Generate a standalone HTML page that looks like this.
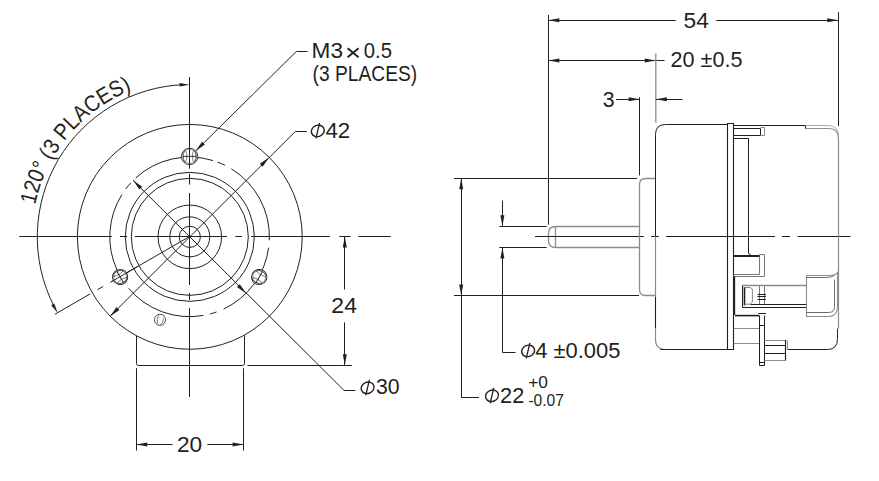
<!DOCTYPE html>
<html><head><meta charset="utf-8"><style>
html,body{margin:0;padding:0;background:#fff;}
svg{display:block;}
text{font-family:"Liberation Sans",sans-serif;fill:#231f20;}
</style></head><body>
<svg width="879" height="481" viewBox="0 0 879 481">
<rect width="879" height="481" fill="#fff"/>
<line x1="19.2" y1="236.5" x2="111.8" y2="236.5" stroke="#231f20" stroke-width="1.0"/>
<line x1="120" y1="236.5" x2="127.1" y2="236.5" stroke="#231f20" stroke-width="1.0"/>
<line x1="134.9" y1="236.5" x2="227" y2="236.5" stroke="#231f20" stroke-width="1.0"/>
<line x1="235.4" y1="236.5" x2="241.9" y2="236.5" stroke="#231f20" stroke-width="1.0"/>
<line x1="251.2" y1="236.5" x2="329.8" y2="236.5" stroke="#231f20" stroke-width="1.0"/>
<line x1="339.3" y1="236.5" x2="350.5" y2="236.5" stroke="#231f20" stroke-width="1.0"/>
<line x1="358.4" y1="236.5" x2="390.7" y2="236.5" stroke="#231f20" stroke-width="1.0"/>
<line x1="189.5" y1="77.1" x2="189.5" y2="168.5" stroke="#231f20" stroke-width="1.0"/>
<line x1="189.5" y1="173.5" x2="189.5" y2="184.6" stroke="#231f20" stroke-width="1.0"/>
<line x1="189.5" y1="193" x2="189.5" y2="284.9" stroke="#231f20" stroke-width="1.0"/>
<line x1="189.5" y1="293" x2="189.5" y2="299.9" stroke="#231f20" stroke-width="1.0"/>
<line x1="189.5" y1="307.9" x2="189.5" y2="397" stroke="#231f20" stroke-width="1.0"/>
<circle cx="189.8" cy="236.85" r="10.6" stroke="#231f20" stroke-width="1.0" fill="none"/>
<circle cx="189.8" cy="236.85" r="20" stroke="#231f20" stroke-width="1.0" fill="none"/>
<circle cx="189.8" cy="236.85" r="31.8" stroke="#231f20" stroke-width="1.0" fill="none"/>
<circle cx="189.8" cy="236.85" r="58.5" stroke="#231f20" stroke-width="1.0" fill="none"/>
<circle cx="189.8" cy="236.85" r="64.5" stroke="#231f20" stroke-width="1.0" fill="none"/>
<circle cx="189.8" cy="236.85" r="112.4" stroke="#231f20" stroke-width="1.0" fill="none"/>
<path d="M268.66 247.68A79.8 79.8 0 0 1 223.58 309.06" stroke="#231f20" stroke-width="1.0" fill="none" />
<path d="M216.5 311.98A79.8 79.8 0 0 1 210.12 313.97" stroke="#231f20" stroke-width="1.0" fill="none" />
<path d="M203.46 315.44A79.8 79.8 0 0 1 128.65 288.36" stroke="#231f20" stroke-width="1.0" fill="none" />
<path d="M117.04 270.07A79.8 79.8 0 0 1 121.93 194.56" stroke="#231f20" stroke-width="1.0" fill="none" />
<path d="M125.79 188.94A79.8 79.8 0 0 1 130.86 182.84" stroke="#231f20" stroke-width="1.0" fill="none" />
<path d="M135.89 177.83A79.8 79.8 0 0 1 213.06 160.58" stroke="#231f20" stroke-width="1.0" fill="none" />
<path d="M217.55 162.1A79.8 79.8 0 0 1 224.96 165.31" stroke="#231f20" stroke-width="1.0" fill="none" />
<path d="M231.3 168.81A79.8 79.8 0 0 1 269.33 240.19" stroke="#231f20" stroke-width="1.0" fill="none" />
<path d="M53.9 305.99A152.3 152.3 0 0 1 184.28 84.64" stroke="#231f20" stroke-width="1.0" fill="none" />
<polygon points="189.6,84.75 179.6,86.55 179.6,82.95" fill="#231f20"/>
<polygon points="57.7,313 51.15,305.24 54.26,303.44" fill="#231f20"/>
<line x1="189.6" y1="236.5" x2="110.62" y2="282.1" stroke="#231f20" stroke-width="1.0"/>
<line x1="103.08" y1="286.45" x2="97.54" y2="289.65" stroke="#231f20" stroke-width="1.0"/>
<line x1="90.09" y1="293.95" x2="54.93" y2="314.25" stroke="#231f20" stroke-width="1.0"/>
<line x1="133.03" y1="180.28" x2="343.9" y2="390.3" stroke="#231f20" stroke-width="1.0"/>
<polygon points="133.03,180.28 142.22,186.65 139.4,189.47" fill="#231f20"/>
<polygon points="246.17,293.42 236.98,287.05 239.8,284.23" fill="#231f20"/>
<line x1="343.9" y1="390.5" x2="355.4" y2="390.5" stroke="#231f20" stroke-width="1.0"/>
<line x1="110.19" y1="316.26" x2="295.2" y2="131.6" stroke="#231f20" stroke-width="1.0"/>
<polygon points="269.01,157.44 262.64,166.63 259.82,163.81" fill="#231f20"/>
<polygon points="110.19,316.26 116.56,307.07 119.38,309.89" fill="#231f20"/>
<line x1="295.2" y1="131.5" x2="306.8" y2="131.5" stroke="#231f20" stroke-width="1.0"/>
<line x1="195.69" y1="150.91" x2="296.6" y2="51.2" stroke="#231f20" stroke-width="1.0"/>
<polygon points="195.69,150.91 202.06,141.72 204.89,144.55" fill="#231f20"/>
<line x1="296.6" y1="51.5" x2="307.5" y2="51.5" stroke="#231f20" stroke-width="1.0"/>
<path d="M136.5 335.5V363.5Q136.5 365.5 138.5 365.5H242.5Q244.5 365.5 244.5 363.5V335.5" stroke="#231f20" stroke-width="1.0" fill="none" />
<g transform="translate(189.6 156.4) rotate(0)"><circle r="8.2" fill="#fff" stroke="#231f20" stroke-width="0.9"/><circle r="7.1" fill="none" stroke="#555" stroke-width="0.6"/><ellipse cx="-4.5" cy="0" rx="1.7" ry="5.6" fill="none" stroke="#3a3a3a" stroke-width="0.65"/><ellipse cx="4.5" cy="0" rx="1.7" ry="5.6" fill="none" stroke="#3a3a3a" stroke-width="0.65"/><line x1="-6.5" y1="0" x2="6.5" y2="0" stroke="#231f20" stroke-width="0.9"/></g>
<g transform="translate(259.23 277.05) rotate(120)"><circle r="7.6" fill="#fff" stroke="#231f20" stroke-width="0.9"/><circle r="6.5" fill="none" stroke="#555" stroke-width="0.6"/><ellipse cx="-4.5" cy="0" rx="1.7" ry="5.6" fill="none" stroke="#3a3a3a" stroke-width="0.65"/><ellipse cx="4.5" cy="0" rx="1.7" ry="5.6" fill="none" stroke="#3a3a3a" stroke-width="0.65"/><line x1="-6.5" y1="0" x2="6.5" y2="0" stroke="#231f20" stroke-width="0.9"/></g>
<g transform="translate(120.14 276.95) rotate(240)"><circle r="7.6" fill="#fff" stroke="#231f20" stroke-width="0.9"/><circle r="6.5" fill="none" stroke="#555" stroke-width="0.6"/><ellipse cx="-4.5" cy="0" rx="1.7" ry="5.6" fill="none" stroke="#3a3a3a" stroke-width="0.65"/><ellipse cx="4.5" cy="0" rx="1.7" ry="5.6" fill="none" stroke="#3a3a3a" stroke-width="0.65"/><line x1="-6.5" y1="0" x2="6.5" y2="0" stroke="#231f20" stroke-width="0.9"/></g>
<line x1="189.5" y1="146" x2="189.5" y2="168.5" stroke="#231f20" stroke-width="1.0"/>
<line x1="137.64" y1="266.5" x2="110.62" y2="282.1" stroke="#231f20" stroke-width="1.0"/>
<ellipse cx="160" cy="319.8" rx="5.5" ry="5.6" fill="#fff" stroke="#231f20" stroke-width="0.8"/>
<path d="M158.5 315.5Q156.5 319.5 157.5 323.5" stroke="#231f20" stroke-width="0.6" fill="none" />
<path d="M163.5 318.5Q163.5 322.5 160.5 324.5" stroke="#231f20" stroke-width="0.6" fill="none" />
<line x1="136.5" y1="368.2" x2="136.5" y2="450.6" stroke="#231f20" stroke-width="1.0"/>
<line x1="243.5" y1="368.2" x2="243.5" y2="450.6" stroke="#231f20" stroke-width="1.0"/>
<line x1="136.2" y1="444.5" x2="172.6" y2="444.5" stroke="#231f20" stroke-width="1.0"/>
<line x1="207.3" y1="444.5" x2="243.6" y2="444.5" stroke="#231f20" stroke-width="1.0"/>
<polygon points="136.2,444.4 147.2,442.4 147.2,446.4" fill="#231f20"/>
<polygon points="243.6,444.4 232.6,446.4 232.6,442.4" fill="#231f20"/>
<line x1="247.5" y1="365.5" x2="352" y2="365.5" stroke="#231f20" stroke-width="1.0"/>
<line x1="344.5" y1="236.5" x2="344.5" y2="289.5" stroke="#231f20" stroke-width="1.0"/>
<line x1="344.5" y1="322.4" x2="344.5" y2="365.2" stroke="#231f20" stroke-width="1.0"/>
<polygon points="344.8,236.5 346.8,247.5 342.8,247.5" fill="#231f20"/>
<polygon points="344.8,365.2 342.8,354.2 346.8,354.2" fill="#231f20"/>
<text transform="translate(176.97 452.38) scale(1.0436 1)" font-size="21.7">20</text>
<text transform="translate(331.35 312.9) scale(1.0604 1)" font-size="21.7">24</text>
<text transform="translate(311.59 57.58) scale(1.0424 1)" font-size="21.7">M3</text>
<text transform="translate(363.79 57.58) scale(0.9357 1)" font-size="21.7">0.5</text>
<line x1="347.6" y1="48.2" x2="358.6" y2="57.2" stroke="#231f20" stroke-width="1.9"/>
<line x1="358.6" y1="48.2" x2="347.6" y2="57.2" stroke="#231f20" stroke-width="1.9"/>
<text transform="translate(312.55 80.74) scale(0.8861 1)" font-size="21.7">(3 PLACES)</text>
<ellipse cx="0" cy="0" rx="6.6" ry="5.6" transform="translate(317.8 130.9) rotate(-22)" fill="none" stroke="#231f20" stroke-width="1.4"/>
<line x1="315.95" y1="138.4" x2="319.6" y2="122.9" stroke="#231f20" stroke-width="1.3"/>
<text transform="translate(325.45 137.8) scale(1.0280 1)" font-size="21.7">42</text>
<ellipse cx="0" cy="0" rx="6.6" ry="5.6" transform="translate(367.6 387.8) rotate(-22)" fill="none" stroke="#231f20" stroke-width="1.4"/>
<line x1="365.75" y1="395.3" x2="369.4" y2="379.8" stroke="#231f20" stroke-width="1.3"/>
<text transform="translate(375.95 394.48) scale(0.9798 1)" font-size="21.7">30</text>
<path id="arcp" d="M33.84 212.18A157.7 157.7 0 0 1 167.65 80.68" fill="none" stroke="none"/>
<text font-size="22.6"><textPath href="#arcp" startOffset="7.5" textLength="156" lengthAdjust="spacingAndGlyphs">120&#176; (3 PLACES)</textPath></text>
<line x1="548.5" y1="15" x2="548.5" y2="224.6" stroke="#231f20" stroke-width="1.0"/>
<line x1="838.5" y1="12.2" x2="838.5" y2="126.1" stroke="#231f20" stroke-width="1.0"/>
<line x1="548.3" y1="20.5" x2="675.8" y2="20.5" stroke="#231f20" stroke-width="1.0"/>
<line x1="716.3" y1="20.5" x2="838.3" y2="20.5" stroke="#231f20" stroke-width="1.0"/>
<polygon points="548.3,20.2 559.3,18.2 559.3,22.2" fill="#231f20"/>
<polygon points="838.3,20.2 827.3,22.2 827.3,18.2" fill="#231f20"/>
<text transform="translate(683.59 27.78) scale(1.0457 1)" font-size="21.7">54</text>
<line x1="548.3" y1="60.5" x2="664.6" y2="60.5" stroke="#231f20" stroke-width="1.0"/>
<polygon points="548.3,60.6 559.3,58.6 559.3,62.6" fill="#231f20"/>
<polygon points="655.8,60.6 644.8,62.6 644.8,58.6" fill="#231f20"/>
<line x1="655.8" y1="53.6" x2="655.8" y2="122.5" stroke="#9a9a9a" stroke-width="1.5"/>
<text transform="translate(670.62 67.28) scale(0.9942 1)" font-size="21.7">20 &#177;0.5</text>
<line x1="639.5" y1="97.2" x2="639.5" y2="175.4" stroke="#231f20" stroke-width="1.0"/>
<line x1="616" y1="99.5" x2="639.6" y2="99.5" stroke="#231f20" stroke-width="1.0"/>
<polygon points="639.6,99.2 628.6,101.2 628.6,97.2" fill="#231f20"/>
<line x1="655.8" y1="99.5" x2="682.6" y2="99.5" stroke="#231f20" stroke-width="1.0"/>
<polygon points="655.8,99.2 666.8,97.2 666.8,101.2" fill="#231f20"/>
<text transform="translate(602.65 106.98) scale(0.9805 1)" font-size="21.7">3</text>
<line x1="454" y1="178.5" x2="637" y2="178.5" stroke="#231f20" stroke-width="1.0"/>
<line x1="454" y1="295.5" x2="639" y2="295.5" stroke="#231f20" stroke-width="1.0"/>
<line x1="461.5" y1="178.2" x2="461.5" y2="397.3" stroke="#231f20" stroke-width="1.0"/>
<line x1="461.2" y1="397.5" x2="479" y2="397.5" stroke="#231f20" stroke-width="1.0"/>
<polygon points="461.2,178.2 463.2,189.2 459.2,189.2" fill="#231f20"/>
<polygon points="461.2,295.5 459.2,284.5 463.2,284.5" fill="#231f20"/>
<ellipse cx="0" cy="0" rx="6.6" ry="5.6" transform="translate(492 395.8) rotate(-22)" fill="none" stroke="#231f20" stroke-width="1.4"/>
<line x1="490.15" y1="403.3" x2="493.8" y2="387.8" stroke="#231f20" stroke-width="1.3"/>
<text transform="translate(500.12 402.7) scale(0.9992 1)" font-size="21.7">22</text>
<text transform="translate(528.13 388.34) scale(1.0700 1)" font-size="16.2">+0</text>
<text transform="translate(528.38 405.64) scale(0.9640 1)" font-size="16.2">-0.07</text>
<line x1="499.3" y1="226.5" x2="546.6" y2="226.5" stroke="#231f20" stroke-width="1.0"/>
<line x1="499.3" y1="247.5" x2="546.6" y2="247.5" stroke="#231f20" stroke-width="1.0"/>
<line x1="502.5" y1="200.6" x2="502.5" y2="226.2" stroke="#231f20" stroke-width="1.0"/>
<polygon points="502.4,226.2 500.4,215.2 504.4,215.2" fill="#231f20"/>
<line x1="502.5" y1="247.4" x2="502.5" y2="352.3" stroke="#231f20" stroke-width="1.0"/>
<line x1="502.4" y1="352.5" x2="515.5" y2="352.5" stroke="#231f20" stroke-width="1.0"/>
<polygon points="502.4,247.4 504.4,258.4 500.4,258.4" fill="#231f20"/>
<ellipse cx="0" cy="0" rx="6.6" ry="5.6" transform="translate(528.1 350.9) rotate(-22)" fill="none" stroke="#231f20" stroke-width="1.4"/>
<line x1="526.25" y1="358.4" x2="529.9" y2="342.9" stroke="#231f20" stroke-width="1.3"/>
<text transform="translate(535.16 357.58) scale(1.0121 1)" font-size="21.7">4 &#177;0.005</text>
<path d="M639.5 226.5H555.5Q548.5 226.5 548.5 233.5V240.5Q548.5 247.5 555.5 247.5H639.5" stroke="#8c8c8c" stroke-width="1.3" fill="none" />
<line x1="555.5" y1="226.2" x2="555.5" y2="247.4" stroke="#8c8c8c" stroke-width="1.3"/>
<line x1="535" y1="236.5" x2="643.7" y2="236.5" stroke="#231f20" stroke-width="1.0"/>
<line x1="651" y1="236.5" x2="658.8" y2="236.5" stroke="#231f20" stroke-width="1.0"/>
<line x1="666.1" y1="236.5" x2="775" y2="236.5" stroke="#231f20" stroke-width="1.0"/>
<line x1="782" y1="236.5" x2="790" y2="236.5" stroke="#231f20" stroke-width="1.0"/>
<line x1="797.5" y1="236.5" x2="850.6" y2="236.5" stroke="#231f20" stroke-width="1.0"/>
<path d="M655.5 178.5H645.5Q639.5 178.5 639.5 184.5V289.5Q639.5 295.5 645.5 295.5H655.5" stroke="#8c8c8c" stroke-width="1.3" fill="none" />
<path d="M727.5 124.5H665.5Q655.5 124.5 655.5 134.5V236.5" stroke="#231f20" stroke-width="1.0" fill="none" />
<path d="M655.5 236.5V339.5Q655.5 349.5 665.5 349.5H727.5" stroke="#8c8c8c" stroke-width="1.2" fill="none" />
<line x1="655.5" y1="297" x2="655.5" y2="328" stroke="#231f20" stroke-width="1.0"/>
<path d="M660.5 349.5H727.5" stroke="#231f20" stroke-width="1.0" fill="none" />
<path d="M727.5 123.5H733.5V349.5H727.5Z" stroke="#231f20" stroke-width="1.1" fill="none" />
<path d="M733.5 125.5H805.5" stroke="#231f20" stroke-width="1.1" fill="none" />
<path d="M805.5 128.5H828.5Q838.5 128.5 838.5 138.5V328.5" stroke="#8c8c8c" stroke-width="1.2" fill="none" />
<path d="M805.5 125.5H828.5Q836.5 125.5 838.5 133.5" stroke="#a0a0a0" stroke-width="0.9" fill="none" />
<path d="M787.5 349.5V341.5Q787.5 340.5 786.5 340.5" stroke="#8c8c8c" stroke-width="1.1" fill="none" />
<path d="M805.5 125.5V128.5" stroke="#231f20" stroke-width="1.0" fill="none" />
<path d="M787.5 349.5H827.5Q837.5 349.5 837.5 338.5V328.5" stroke="#231f20" stroke-width="1.0" fill="none" />
<path d="M733.5 128.5H760.5V135.5H733.5" stroke="#231f20" stroke-width="1.0" fill="none" />
<path d="M760.5 127.5H764.5V135.5H760.5" stroke="#8c8c8c" stroke-width="1.0" fill="none" />
<path d="M733.5 138.5H748.5" stroke="#231f20" stroke-width="1.0" fill="none" />
<line x1="748.5" y1="138.2" x2="748.5" y2="252.8" stroke="#231f20" stroke-width="1.0"/>
<path d="M748.5 252.5Q748.5 254.5 750.5 254.5" stroke="#231f20" stroke-width="1.0" fill="none" />
<path d="M759.5 254.5H764.5V276.5H733.5" stroke="#777" stroke-width="1.0" fill="none" />
<path d="M759.5 254.5V274.5H733.5" stroke="#777" stroke-width="1.0" fill="none" />
<line x1="733.8" y1="256" x2="759.3" y2="256" stroke="#231f20" stroke-width="2.0"/>
<line x1="734.5" y1="276.2" x2="734.5" y2="315" stroke="#231f20" stroke-width="1.3"/>
<line x1="734.9" y1="315.6" x2="759.3" y2="315.6" stroke="#231f20" stroke-width="1.6"/>
<path d="M742.5 285.5H806.5" stroke="#8a8a8a" stroke-width="1.3" fill="none" />
<path d="M742.5 285.5V307.5H806.5" stroke="#231f20" stroke-width="1.0" fill="none" />
<path d="M750.5 304.5H806.5" stroke="#231f20" stroke-width="1.0" fill="none" />
<path d="M744.5 287V305.5" stroke="#231f20" stroke-width="1.6" fill="none" />
<path d="M744.2 287.5H750L752.4 289V302L750 304.2H744.2" stroke="#777" stroke-width="0.9" fill="none" />
<line x1="759.5" y1="285.5" x2="759.5" y2="304.2" stroke="#777" stroke-width="1.0"/>
<line x1="764.5" y1="285.5" x2="764.5" y2="304.2" stroke="#777" stroke-width="1.0"/>
<line x1="757.5" y1="294.5" x2="766" y2="294.5" stroke="#231f20" stroke-width="1.0"/>
<line x1="757.5" y1="296.5" x2="766" y2="296.5" stroke="#231f20" stroke-width="1.0"/>
<line x1="757.5" y1="299.5" x2="766" y2="299.5" stroke="#231f20" stroke-width="1.0"/>
<path d="M806.5 275.5H828.5Q835.5 275.5 837.5 272.5V306.5Q837.5 316.5 828.5 316.5H806.5V275.5" stroke="#8c8c8c" stroke-width="1.1" fill="none" />
<path d="M806.5 277.5H826.5Q830.5 277.5 834.5 275.5M834.5 279.5V306.5Q834.5 312.5 828.5 312.5H806.5" stroke="#5a5a5a" stroke-width="0.9" fill="none" />
<line x1="733.8" y1="328.5" x2="759.3" y2="328.5" stroke="#8c8c8c" stroke-width="1.0"/>
<line x1="733.8" y1="343.5" x2="759.3" y2="343.5" stroke="#8c8c8c" stroke-width="1.0"/>
<line x1="758.2" y1="313.5" x2="766" y2="313.5" stroke="#231f20" stroke-width="1.0"/>
<path d="M759.5 315.5V365.5H764.5V315.5" stroke="#231f20" stroke-width="1.0" fill="none" />
<line x1="759.1" y1="325.5" x2="764.6" y2="325.5" stroke="#231f20" stroke-width="1.0"/>
<line x1="759.1" y1="362.5" x2="764.6" y2="362.5" stroke="#231f20" stroke-width="1.0"/>
<path d="M764.5 340.5H785.5V360.5H764.5" stroke="#8c8c8c" stroke-width="1.1" fill="none" />
<line x1="785.5" y1="340.2" x2="785.5" y2="360.3" stroke="#231f20" stroke-width="1.1"/>
<line x1="764.6" y1="345.5" x2="785.1" y2="345.5" stroke="#231f20" stroke-width="1.0"/>
<line x1="764.6" y1="353.5" x2="785.1" y2="353.5" stroke="#231f20" stroke-width="1.0"/>
</svg></body></html>
